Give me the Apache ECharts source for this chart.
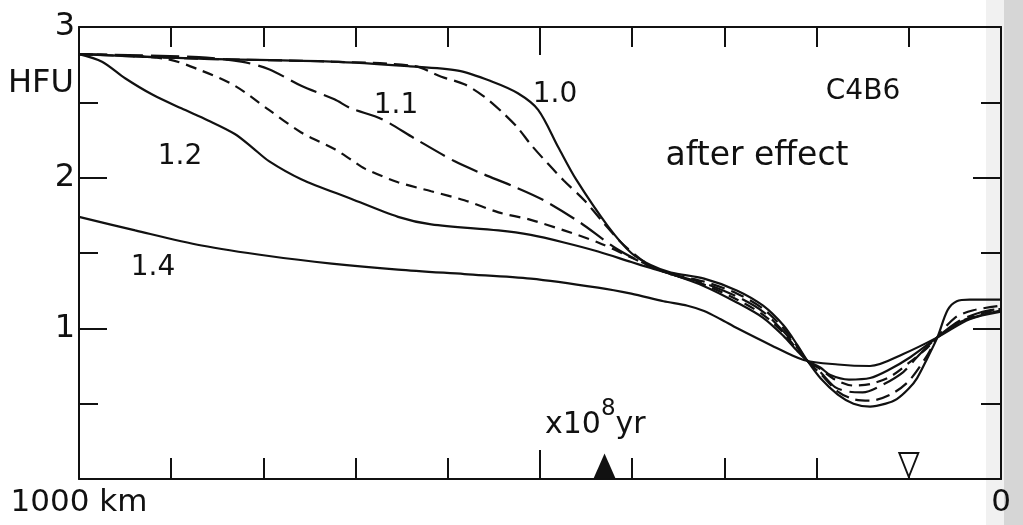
<!DOCTYPE html>
<html>
<head>
<meta charset="utf-8">
<script src="https://cdn.jsdelivr.net/npm/echarts@6/dist/echarts.min.js"></script>
<style>
  html, body { margin: 0; padding: 0; background: #fff; }
  #main { width: 1023px; height: 525px; }
</style>
</head>
<body>
<div id="main"></div>
<script>
// distance in km (1000 at the left, 0 at the right), HFU value
var curve10 = [[1000,2.82],[870,2.79],[726,2.77],[643,2.74],[589,2.71],[553,2.64],[524,2.56],[502,2.45],[480,2.20],[461,1.99],[426,1.675],[401,1.50],[380,1.42],[358,1.37],[322,1.33],[286,1.25],[258,1.15],[236,1.02],[221,0.89],[210,0.785],[196,0.67],[177,0.56],[160,0.50],[142,0.48],[125,0.50],[113,0.53],[100,0.60],[91,0.67],[80,0.80],[69,0.94],[58,1.12],[48,1.18],[34,1.19],[0,1.19]];
var curve105 = [[1000,2.82],[870,2.79],[726,2.77],[636,2.74],[607,2.67],[582,2.62],[561,2.54],[542,2.44],[524,2.33],[510,2.22],[491,2.09],[474,1.98],[452,1.85],[431,1.70],[412,1.57],[391,1.46],[375,1.40],[358,1.36],[322,1.31],[286,1.23],[258,1.13],[236,1.00],[221,0.88],[210,0.785],[196,0.70],[177,0.58],[160,0.53],[142,0.52],[120,0.56],[100,0.65],[80,0.82],[69,0.94],[50,1.07],[30,1.12],[0,1.15]];
var curve11 = [[1000,2.82],[870,2.80],[824,2.77],[794,2.72],[759,2.61],[723,2.52],[705,2.46],[672,2.39],[636,2.26],[593,2.11],[564,2.03],[528,1.94],[496,1.85],[456,1.70],[420,1.54],[390,1.44],[358,1.36],[322,1.30],[286,1.21],[258,1.11],[236,0.98],[221,0.87],[210,0.785],[196,0.71],[180,0.61],[165,0.58],[150,0.575],[130,0.62],[106,0.71],[91,0.81],[69,0.94],[45,1.05],[20,1.11],[0,1.13]];
var curve115 = [[1000,2.82],[907,2.79],[867,2.71],[831,2.61],[794,2.45],[759,2.30],[723,2.19],[705,2.12],[690,2.06],[654,1.97],[618,1.91],[582,1.85],[545,1.77],[510,1.72],[474,1.65],[437,1.57],[401,1.47],[380,1.41],[358,1.36],[322,1.29],[286,1.19],[258,1.09],[236,0.97],[221,0.86],[210,0.785],[196,0.73],[180,0.66],[160,0.62],[142,0.63],[120,0.68],[100,0.77],[80,0.87],[69,0.94],[45,1.04],[20,1.10],[0,1.13]];
var curve12 = [[1000,2.82],[975,2.77],[950,2.66],[920,2.55],[889,2.46],[860,2.38],[831,2.29],[812,2.20],[794,2.11],[759,1.99],[705,1.86],[654,1.74],[618,1.69],[545,1.65],[510,1.62],[474,1.57],[437,1.51],[401,1.44],[380,1.40],[358,1.36],[322,1.28],[286,1.17],[258,1.07],[236,0.95],[221,0.85],[210,0.785],[196,0.74],[185,0.69],[165,0.66],[142,0.67],[123,0.72],[98,0.81],[69,0.94],[45,1.04],[20,1.09],[0,1.12]];
var curve14 = [[1000,1.74],[939,1.65],[867,1.55],[794,1.48],[726,1.43],[654,1.39],[582,1.36],[510,1.33],[437,1.27],[401,1.23],[366,1.18],[340,1.15],[322,1.115],[304,1.06],[286,1.00],[250,0.89],[214,0.79],[177,0.76],[142,0.75],[106,0.83],[69,0.94],[34,1.06],[0,1.11]];

// markers on the distance axis
var filledMark = [[430, 0]];
var openMark = [[100, 0]];

var FONT = 'DejaVu Sans';
var INK = '#111';

var myChart = echarts.init(document.getElementById('main'));

function lineSeries(data, dash) {
    return {
        type: 'line',
        data: data,
        symbol: 'none',
        smooth: 0.3,
        lineStyle: { color: INK, width: 2.2, type: dash || 'solid' },
        z: 3
    };
}

function textEl(x, y, txt, size) {
    return {
        type: 'text',
        x: x,
        y: y,
        z: 5,
        style: {
            text: txt,
            fill: INK,
            font: size + 'px "' + FONT + '"',
            align: 'center',
            verticalAlign: 'middle'
        }
    };
}

var tickStyle = { color: INK, width: 2 };
var frameLine = { show: true, onZero: false, lineStyle: { color: INK, width: 2 } };

var option = {
    animation: false,
    backgroundColor: '#fff',
    grid: { left: 79, right: 22, top: 27, bottom: 46, outerBoundsMode: 'none' },
    xAxis: [
        {
            type: 'value', min: 0, max: 1000, interval: 500, inverse: true, position: 'bottom',
            splitLine: { show: false },
            axisLine: frameLine,
            axisTick: { show: true, inside: true, length: 29, lineStyle: tickStyle },
            minorTick: { show: true, splitNumber: 5, length: 21, lineStyle: tickStyle },
            axisLabel: {
                show: true, margin: 8, showMinLabel: true, showMaxLabel: true,
                color: INK, fontFamily: FONT, fontSize: 31,
                formatter: function (v) {
                    if (v === 1000) return '1000 km';
                    if (v === 0) return '0';
                    return '';
                }
            }
        },
        {
            type: 'value', min: 0, max: 1000, interval: 500, inverse: true, position: 'top',
            splitLine: { show: false },
            axisLine: frameLine,
            axisTick: { show: true, inside: true, length: 28, lineStyle: tickStyle },
            minorTick: { show: true, splitNumber: 5, length: 20, lineStyle: tickStyle },
            axisLabel: { show: false }
        }
    ],
    yAxis: [
        {
            type: 'value', min: 0, max: 3, interval: 1, position: 'left',
            splitLine: { show: false },
            axisLine: frameLine,
            axisTick: { show: true, inside: true, length: 28, lineStyle: tickStyle },
            minorTick: { show: true, splitNumber: 2, length: 19, lineStyle: tickStyle },
            axisLabel: {
                show: true, margin: 4, color: INK, fontFamily: FONT, fontSize: 32,
                showMaxLabel: true,
                formatter: function (v) { return v === 0 ? '' : String(v); }
            }
        },
        {
            type: 'value', min: 0, max: 3, interval: 1, position: 'right',
            splitLine: { show: false },
            axisLine: frameLine,
            axisTick: { show: true, inside: true, length: 28, lineStyle: tickStyle },
            minorTick: { show: true, splitNumber: 2, length: 20, lineStyle: tickStyle },
            axisLabel: { show: false }
        }
    ],
    series: [
        lineSeries(curve10),
        lineSeries(curve105, [14, 7]),
        lineSeries(curve11, [28, 8]),
        lineSeries(curve115, [11, 7]),
        lineSeries(curve12),
        lineSeries(curve14),
        {
            type: 'scatter', data: filledMark, symbol: 'triangle',
            symbolSize: [22, 25], symbolOffset: [0, -13],
            itemStyle: { color: INK, opacity: 1 }, z: 4
        },
        {
            type: 'scatter', data: openMark, symbol: 'triangle', symbolRotate: 180,
            symbolSize: [19, 24], symbolOffset: [0, -14],
            itemStyle: { color: '#fff', borderColor: INK, borderWidth: 2, opacity: 1 }, z: 4
        }
    ],
    graphic: [
        // scanned page edge on the right
        { type: 'rect', z: 0, shape: { x: 1004, y: 0, width: 19, height: 525 }, style: { fill: '#d6d6d6' } },
        { type: 'rect', z: 0, shape: { x: 986, y: 0, width: 18, height: 525 }, style: { fill: '#f1f1f1' } },
        textEl(41, 84, 'HFU', 32),
        textEl(180, 157, '1.2', 28),
        textEl(153, 268, '1.4', 28),
        textEl(396, 106, '1.1', 28),
        textEl(555, 95, '1.0', 28),
        textEl(863, 92, 'C4B6', 28),
        textEl(757, 156, 'after effect', 33),
        {
            type: 'text', x: 545, y: 398, z: 5,
            style: {
                text: '{a|x10}{b|8}{a|yr}',
                fill: INK,
                align: 'left',
                verticalAlign: 'top',
                rich: {
                    a: { fontFamily: FONT, fontSize: 30, lineHeight: 42, verticalAlign: 'bottom', color: INK },
                    b: { fontFamily: FONT, fontSize: 23, verticalAlign: 'top', color: INK }
                }
            }
        }
    ]
};

myChart.setOption(option);
</script>
</body>
</html>
